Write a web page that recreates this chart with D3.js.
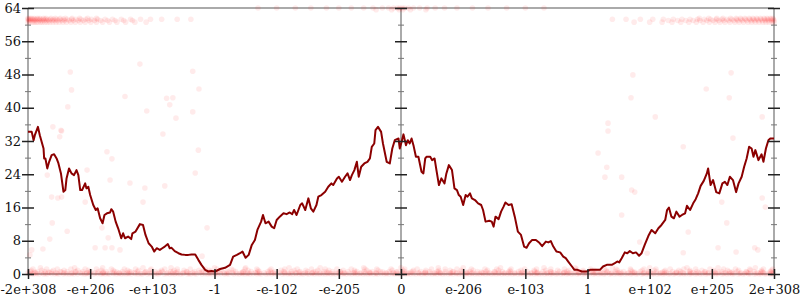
<!DOCTYPE html>
<html>
<head>
<meta charset="utf-8">
<script src="https://cdn.jsdelivr.net/npm/d3@7"></script>
<style>
  html, body { margin: 0; padding: 0; background: #fff; }
  svg { display: block; font-family: "DejaVu Serif", serif; }
</style>
</head>
<body>
<div id="chart"></div>
<script>
// x positions are ordinal float positions: each labelled tick is 100 units apart
const xTickLabels = ['-2e+308', '-e+206', '-e+103', '-1', '-e-102', '-e-205', '0',
  'e-206', 'e-103', '1', 'e+102', 'e+205', '2e+308'];
const xTickValues = [0, 100, 200, 300, 400, 500, 600, 700, 800, 900, 1000, 1100, 1200];
const yMajorTicks = [0, 8, 16, 24, 32, 40, 48, 56, 64];
const yMinorTicks = [4, 12, 20, 28, 36, 44, 52, 60];

// averaged error line (bits)
const lineX = [0, 6, 9, 11, 16, 19, 25, 26, 28, 31, 34, 38, 42, 46, 49, 53, 57, 60, 62, 66, 70, 74, 78, 81, 84, 87,
  92, 94, 97, 100, 105, 109, 112, 116, 120, 123, 127, 132, 134, 137, 141, 145, 150, 153, 156, 161, 166, 168, 173,
  180, 185, 189, 194, 199, 203, 207, 212, 216, 220, 225, 228, 231, 236, 242, 247, 253, 258, 263, 269, 274, 279,
  285, 290, 295, 301, 309, 317, 325, 330, 336, 341, 345, 350, 355, 360, 365, 369, 375, 378, 382, 387, 392, 396,
  400, 405, 411, 416, 421, 425, 428, 432, 438, 441, 446, 451, 455, 459, 464, 467, 472, 478, 483, 488, 491, 497,
  500, 505, 510, 514, 518, 521, 525, 529, 532, 536, 541, 546, 550, 553, 557, 559, 563, 568, 571, 577, 582, 586,
  590, 596, 598, 601, 604, 608, 611, 614, 617, 620, 624, 628, 633, 636, 639, 641, 647, 650, 654, 657, 661, 665,
  670, 673, 677, 682, 686, 690, 693, 696, 700, 704, 707, 711, 714, 719, 724, 729, 732, 736, 742, 746, 749, 752,
  757, 761, 765, 768, 773, 778, 783, 788, 793, 798, 802, 806, 811, 817, 822, 827, 833, 837, 841, 845, 850, 856,
  861, 865, 869, 875, 879, 884, 891, 899, 904, 911, 920, 925, 931, 939, 944, 948, 951, 955, 960, 964, 968, 973,
  978, 983, 987, 992, 998, 1003, 1009, 1014, 1019, 1025, 1028, 1031, 1035, 1039, 1043, 1048, 1052, 1057, 1060,
  1065, 1070, 1074, 1078, 1082, 1087, 1092, 1094, 1098, 1102, 1107, 1112, 1117, 1121, 1125, 1129, 1134, 1139,
  1143, 1148, 1152, 1156, 1160, 1164, 1167, 1170, 1175, 1180, 1183, 1187, 1191, 1194, 1200];
const lineY = [34.2, 34.2, 32.2, 33.4, 35.4, 33.4, 30.2, 27.8, 27.8, 25.4, 27.0, 28.6, 28.8, 27.8, 26.6, 24.2, 19.8,
  20.2, 23.0, 25.4, 24.2, 23.8, 25.0, 23.8, 20.2, 20.2, 21.8, 20.6, 21.0, 19.0, 16.6, 15.4, 15.8, 13.4, 12.2,
  14.2, 14.6, 14.8, 15.6, 15.0, 12.6, 11.0, 8.6, 9.8, 8.6, 9.0, 8.4, 9.8, 10.2, 12.0, 11.8, 9.4, 7.4, 6.6, 5.4,
  6.2, 5.8, 6.2, 6.6, 7.2, 6.2, 6.3, 5.5, 5.0, 4.7, 4.6, 4.6, 4.7, 4.7, 3.4, 2.2, 1.0, 0.6, 0.7, 0.6, 1.2, 1.5,
  2.2, 4.2, 4.6, 5.0, 5.4, 3.9, 4.6, 7.0, 8.2, 10.6, 12.6, 14.2, 12.2, 12.6, 11.4, 11.0, 13.0, 13.8, 14.6, 14.4,
  14.8, 14.4, 15.4, 14.2, 16.6, 17.0, 15.4, 18.2, 15.8, 15.0, 16.6, 18.6, 19.0, 19.8, 21.0, 21.8, 21.4, 23.0,
  23.4, 22.2, 23.4, 24.2, 22.6, 23.8, 25.0, 27.0, 23.4, 25.8, 26.6, 27.0, 27.8, 30.6, 31.4, 34.6, 35.4, 34.2,
  31.4, 27.0, 26.6, 30.2, 32.2, 32.6, 30.2, 31.8, 33.6, 31.0, 32.2, 31.4, 32.6, 31.0, 28.2, 28.2, 24.6, 24.2,
  27.8, 28.2, 28.2, 27.4, 27.8, 25.0, 21.4, 23.0, 21.8, 24.2, 26.2, 25.0, 20.6, 20.2, 19.0, 18.6, 16.6, 19.0,
  18.6, 19.4, 18.2, 17.8, 17.0, 16.6, 15.4, 12.6, 12.8, 12.6, 11.4, 13.8, 13.2, 15.0, 16.2, 17.2, 16.6, 16.8,
  13.8, 10.2, 9.4, 6.6, 6.3, 7.4, 8.2, 8.2, 7.6, 6.7, 7.8, 7.6, 7.9, 6.6, 5.4, 5.2, 4.2, 3.8, 3.0, 1.8, 1.0, 1.0,
  0.6, 0.6, 1.0, 1.0, 1.0, 1.8, 2.2, 2.2, 2.6, 3.0, 2.8, 3.8, 5.2, 5.0, 5.5, 5.0, 5.2, 4.4, 5.0, 7.0, 9.2, 10.6,
  9.8, 11.0, 11.8, 13.0, 15.4, 16.0, 13.8, 13.4, 15.0, 13.8, 14.2, 14.6, 16.4, 15.4, 17.0, 18.0, 19.4, 21.2,
  22.4, 24.2, 25.4, 21.4, 22.6, 19.7, 19.4, 21.8, 22.2, 21.4, 23.4, 22.6, 19.7, 21.8, 23.4, 25.8, 27.8, 30.6,
  30.2, 28.2, 29.8, 27.4, 28.8, 27.0, 30.2, 32.2, 32.6, 32.6];

// sample points, grouped in rows of equal error
const high615X = [0, 3, 6, 10, 15, 19, 25, 29, 37, 44, 52, 60, 71, 83, 96, 110, 1080, 1095, 1108, 1118, 1130, 1139,
  1146, 1153, 1160, 1166, 1172, 1178, 1184, 1189, 1194, 1198];
const high613X = [0, 2, 5, 8, 11, 14, 17, 20, 24, 28, 32, 36, 41, 46, 51, 57, 63, 70, 77, 85, 93, 102, 112, 124, 136,
  150, 165, 181, 197, 215, 240, 262, 940, 962, 985, 1005, 1022, 1038, 1052, 1065, 1077, 1088, 1098, 1107, 1116,
  1124, 1132, 1140, 1147, 1154, 1161, 1167, 1173, 1179, 1185, 1190, 1195, 1199];
const high61X = [1, 4, 9, 12, 18, 22, 26, 30, 34, 39, 43, 48, 54, 59, 66, 73, 81, 89, 98, 107, 117, 128, 140, 154,
  168, 1030, 1045, 1058, 1070, 1081, 1092, 1102, 1111, 1119, 1127, 1135, 1142, 1149, 1156, 1163, 1169, 1175, 1181,
  1186, 1191, 1196, 1200];
const high606X = [0, 3, 7, 10, 13, 16, 20, 23, 27, 31, 35, 40, 45, 50, 56, 62, 69, 76, 84, 92, 101, 110, 120, 131,
  143, 157, 172, 190, 975, 1000, 1020, 1036, 1050, 1063, 1075, 1086, 1096, 1105, 1113, 1121, 1129, 1137, 1144,
  1151, 1158, 1164, 1170, 1176, 1182, 1187, 1192, 1197, 1200];
const top64X = [370, 400, 430, 455, 480, 500, 520, 540, 555, 570, 580, 588, 594, 598, 602, 606, 612, 620, 630, 642,
  655, 670, 690, 715, 740, 770, 800, 830];
const top636X = [560, 585, 597, 603, 615, 640];
const low0X = [2, 9, 18, 25, 31, 43, 50, 57, 66, 74, 80, 91, 99, 106, 117, 124, 131, 142, 150, 158, 166, 177, 184,
  192, 203, 210, 219, 228, 236, 245, 256, 262, 271, 280, 289, 297, 305, 316, 323, 331, 340, 349, 357, 368, 375,
  383, 392, 401, 409, 418, 426, 436, 443, 452, 461, 469, 478, 487, 495, 504, 512, 521, 530, 539, 547, 556, 563,
  573, 581, 590, 598, 607, 615, 624, 633, 641, 650, 658, 667, 676, 684, 693, 702, 710, 719, 727, 736, 745, 753,
  762, 771, 779, 788, 797, 805, 814, 822, 831, 840, 849, 857, 866, 874, 883, 892, 900, 909, 917, 926, 935, 943,
  952, 960, 969, 978, 987, 995, 1004, 1012, 1021, 1030, 1038, 1047, 1055, 1064, 1073, 1081, 1090, 1099, 1107,
  1116, 1124, 1133, 1142, 1150, 1159, 1168, 1176, 1185, 1193, 1199];
const low01X = [6, 14, 28, 38, 47, 62, 70, 87, 94, 112, 120, 128, 138, 146, 154, 162, 173, 181, 196, 207, 223, 232,
  241, 249, 259, 268, 285, 293, 301, 310, 320, 336, 345, 353, 362, 372, 387, 397, 413, 422, 431, 440, 449, 457,
  465, 474, 482, 491, 500, 508, 517, 526, 534, 543, 551, 560, 568, 577, 586, 594, 603, 611, 620, 629, 637, 646,
  654, 663, 671, 680, 689, 697, 706, 714, 723, 732, 740, 749, 757, 766, 775, 783, 792, 800, 809, 818, 826, 835,
  843, 852, 861, 869, 878, 886, 895, 904, 912, 921, 929, 938, 947, 955, 964, 972, 981, 990, 998, 1007, 1016,
  1024, 1033, 1041, 1050, 1059, 1067, 1076, 1085, 1093, 1102, 1110, 1119, 1128, 1136, 1145, 1153, 1162, 1171,
  1179, 1188, 1196];
const low03X = [0, 12, 22, 35, 45, 58, 71, 84, 95, 108, 121, 136, 147, 160, 171, 187, 199, 213, 225, 238, 250, 265,
  276, 291, 302, 315, 329, 343, 354, 366, 380, 394, 405, 419, 431, 446, 457, 470, 484, 499, 509, 524, 536, 550,
  560, 576, 588, 603, 612, 628, 639, 654, 663, 679, 690, 706, 715, 731, 742, 758, 767, 783, 794, 810, 819, 835,
  846, 862, 871, 887, 898, 914, 923, 939, 950, 966, 975, 991, 1002, 1018, 1027, 1043, 1054, 1070, 1079, 1095,
  1106, 1122, 1131, 1147, 1158, 1174, 1183, 1197];
const low045X = [10, 33, 54, 76, 99, 121, 143, 166, 189, 211, 233, 256, 279, 301, 323, 346, 369, 391, 413, 436, 459,
  481, 503, 526, 549, 571, 593, 616, 639, 661, 683, 706, 729, 751, 773, 796, 819, 841, 863, 886, 909, 931, 953,
  976, 999, 1021, 1043, 1066, 1089, 1111, 1133, 1156, 1179, 1195];
const low06X = [4, 15, 27, 38, 52, 63, 77, 88, 101, 113, 126, 139, 152, 163, 176, 190, 204, 216, 229, 241, 255, 268,
  282, 293, 307, 320, 334, 346, 359, 372, 386, 397, 411, 424, 438, 450, 463, 476, 490, 502, 515, 529, 541, 554,
  567, 581, 594, 606, 619, 632, 646, 658, 671, 684, 698, 711, 723, 737, 750, 763, 776, 789, 803, 815, 828, 841,
  855, 867, 880, 893, 907, 920, 933, 945, 958, 972, 985, 998, 1011, 1024, 1037, 1050, 1064, 1076, 1089, 1103,
  1116, 1128, 1141, 1155, 1168, 1181, 1194];
const low09X = [5, 22, 41, 58, 80, 97, 118, 137, 160, 178, 197, 215, 235, 251, 275, 292, 311, 330, 354, 370, 389,
  407, 428, 447, 466, 484, 507, 525, 545, 563, 586, 603, 620, 640, 661, 679, 697, 716, 739, 757, 775, 793, 814,
  833, 852, 870, 893, 911, 930, 948, 970, 988, 1007, 1025, 1047, 1065, 1084, 1103, 1125, 1143, 1162, 1180, 1196];
const low12X = [8, 30, 47, 69, 92, 110, 134, 155, 173, 198, 220, 240, 261, 285, 304, 327, 349, 368, 391, 413, 433,
  456, 478, 497, 520, 542, 561, 584, 606, 626, 649, 671, 690, 713, 735, 754, 777, 799, 818, 841, 863, 882, 905,
  927, 946, 969, 991, 1010, 1033, 1055, 1074, 1097, 1119, 1138, 1161, 1183, 1198];
const low15X = [20, 75, 120, 185, 230, 300, 350, 420, 470, 540, 600, 660, 700, 760, 830, 880, 940, 1000, 1060, 1110,
  1170];
const scatterX = [68, 180, 265, 70, 156, 223, 233, 275, 64, 40, 54, 51, 127, 135, 95, 132, 164, 188, 220, 191, 238,
  217, 228, 265, 274, 269, 38, 54, 53, 31, 48, 92, 185, 39, 63, 35, 24, 6, 3, 108, 124, 135, 148, 119, 129, 288,
  280, 933, 933, 1009, 917, 931, 928, 955, 971, 976, 955, 1054, 1134, 1181, 1062, 1124, 1181, 1186, 1116, 1054,
  1110, 1169, 984, 1139, 1174, 996, 973, 1131, 1091, 970, 1128];
const scatterY = [48.6, 50.5, 48.8, 44.3, 42.7, 42.3, 42.4, 44.5, 40.2, 35.4, 34.4, 33.0, 29.4, 27.7, 25.0, 22.6,
  21.9, 20.7, 21.2, 39.2, 37.5, 33.7, 40.7, 39.0, 29.8, 24.3, 18.5, 18.5, 34.6, 23.8, 18.3, 17.3, 17.3, 12.3,
  10.3, 8.4, 6.0, 5.8, 4.6, 6.3, 6.3, 6.3, 5.8, 11.1, 8.7, 11.1, 4.3, 36.3, 34.4, 37.8, 29.1, 25.7, 23.3, 23.3,
  20.2, 19.7, 14.2, 30.6, 32.7, 37.8, 10.1, 12.3, 18.3, 16.1, 17.3, 5.1, 6.3, 6.3, 7.7, 5.3, 5.8, 5.0, 47.9,
  48.4, 44.5, 42.4, 42.4];

(function() {
  const width = 800, height = 300;
  const margin = { top: 8, right: 26, bottom: 26, left: 28 };
  const innerW = width - margin.left - margin.right;
  const innerH = height - margin.top - margin.bottom;

  const svg = d3.select('#chart').append('svg')
    .attr('width', width)
    .attr('height', height);
  const g = svg.append('g')
    .attr('transform', 'translate(' + margin.left + ',' + margin.top + ')');

  const x = d3.scaleLinear().domain([0, 1200]).range([0, innerW]);
  const y = d3.scaleLinear().domain([0, 64]).range([innerH, 0]);

  // frame
  const frameColor = '#aaa';
  [[0, 0, innerW, 0], [0, innerH, innerW, innerH], [0, 0, 0, innerH],
   [innerW, 0, innerW, innerH], [x(600), 0, x(600), innerH]].forEach(function(l) {
    g.append('line')
      .attr('x1', l[0]).attr('y1', l[1]).attr('x2', l[2]).attr('y2', l[3])
      .attr('stroke', frameColor).attr('stroke-width', 2);
  });

  // sample points
  const pts = [];
  function addRow(xs, v) { xs.forEach(function(d) { pts.push([d, v]); }); }
  addRow(high615X, 61.5);
  addRow(high613X, 61.3);
  addRow(high61X, 61.0);
  addRow(high606X, 60.6);
  addRow(top64X, 64);
  addRow(top636X, 63.6);
  addRow(low0X, 0);
  addRow(low01X, 0.1);
  addRow(low03X, 0.3);
  addRow(low045X, 0.45);
  addRow(low06X, 0.6);
  addRow(low09X, 0.9);
  addRow(low12X, 1.2);
  addRow(low15X, 1.5);
  scatterX.forEach(function(d, i) { pts.push([d, scatterY[i]]); });

  g.append('g').selectAll('circle')
    .data(pts)
    .enter()
    .append('circle')
      .attr('cx', function(d) { return x(d[0]); })
      .attr('cy', function(d) { return y(d[1]); })
      .attr('r', 2.8)
      .attr('fill', 'red')
      .attr('fill-opacity', 0.08);

  // error line
  const lineData = lineX.map(function(d, i) { return [d, lineY[i]]; });
  g.append('path')
    .datum(lineData)
    .attr('fill', 'none')
    .attr('stroke', '#8b0000')
    .attr('stroke-width', 2)
    .attr('stroke-linejoin', 'round')
    .attr('d', d3.line()
      .x(function(d) { return x(d[0]); })
      .y(function(d) { return y(d[1]); }));

  // y axes: left with labels, middle and right without
  function yTicks(xPos, withLabels) {
    const major = g.append('g')
      .attr('transform', 'translate(' + xPos + ',0)')
      .call(d3.axisLeft(y).tickValues(yMajorTicks).tickSize(0).tickPadding(7)
        .tickFormat(withLabels ? d3.format('d') : function() { return ''; }));
    major.select('.domain').remove();
    major.selectAll('.tick').append('line')
      .attr('x1', -6).attr('x2', 6)
      .attr('stroke', '#222').attr('stroke-width', 1.5);
    major.selectAll('.tick text')
      .style('font-family', '"DejaVu Serif", serif')
      .style('font-size', '13px')
      .style('fill', '#111');

    const minor = g.append('g')
      .attr('transform', 'translate(' + xPos + ',0)')
      .call(d3.axisLeft(y).tickValues(yMinorTicks).tickSize(0).tickFormat(''));
    minor.select('.domain').remove();
    minor.selectAll('.tick').append('line')
      .attr('x1', -3).attr('x2', 3)
      .attr('stroke', '#777').attr('stroke-width', 1);
  }
  yTicks(0, true);
  yTicks(x(600), false);
  yTicks(innerW, false);

  // x axis
  const xAxis = g.append('g')
    .attr('transform', 'translate(0,' + innerH + ')')
    .call(d3.axisBottom(x).tickValues(xTickValues).tickSize(0).tickPadding(11)
      .tickFormat(function(d, i) { return xTickLabels[i]; }));
  xAxis.select('.domain').remove();
  xAxis.selectAll('.tick').append('line')
    .attr('y1', -5).attr('y2', 5)
    .attr('stroke', '#222').attr('stroke-width', 1.5);
  xAxis.selectAll('.tick text')
    .style('font-family', '"DejaVu Serif", serif')
    .style('font-size', '13px')
    .style('fill', '#111');
})();
</script>
</body>
</html>
